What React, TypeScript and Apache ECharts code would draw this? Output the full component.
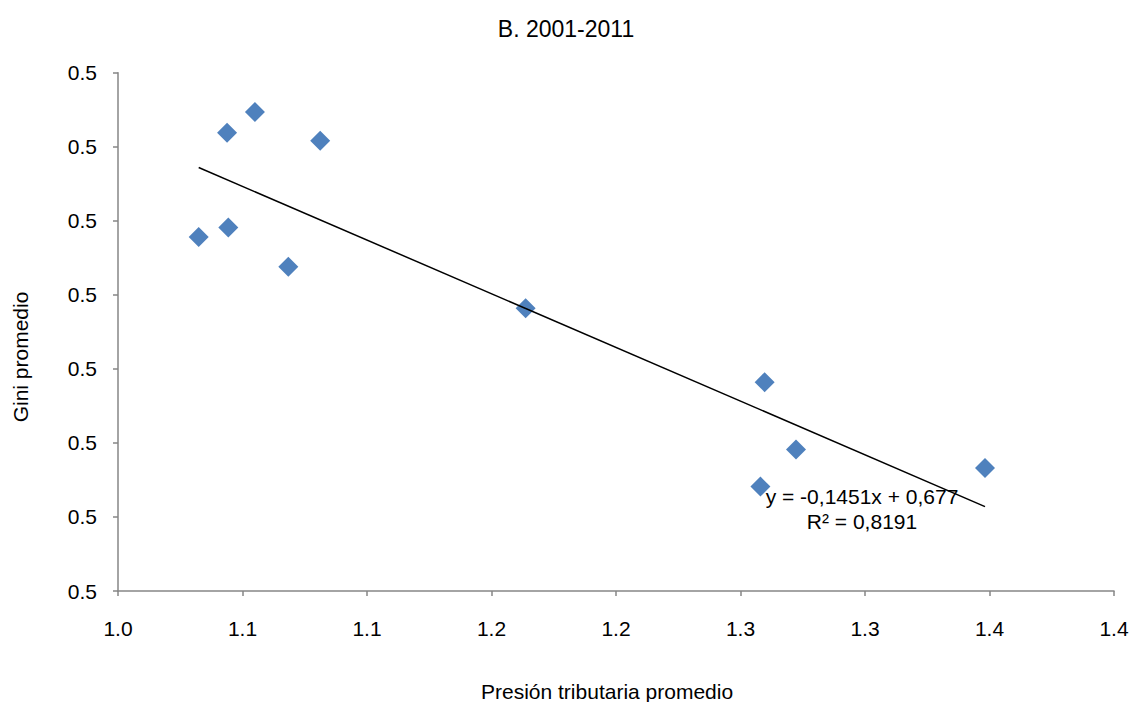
import React, { useEffect, useRef } from "react";
import * as echarts from "echarts";

const titleText = "B. 2001-2011";
const xAxisName = "Presión tributaria promedio";
const yAxisName = "Gini promedio";

const xValues = [1.0324, 1.0438, 1.055, 1.0812, 1.0443, 1.0684, 1.1637, 1.2597, 1.2723, 1.258, 1.3482];
const yValues = [0.5178, 0.5319, 0.5347, 0.5308, 0.5191, 0.5138, 0.5082, 0.4982, 0.4891, 0.4841, 0.4866];

const trendX = [1.0324, 1.3482];
const trendY = [0.5272, 0.4814];

const xTickLabels = ["1.0", "1.1", "1.1", "1.2", "1.2", "1.3", "1.3", "1.4", "1.4"];
const yTickLabels = ["0.5", "0.5", "0.5", "0.5", "0.5", "0.5", "0.5", "0.5"];

const equationText = "y = -0,1451x + 0,677";
const r2Text = "R² = 0,8191";

const X_MIN = 1.0;
const X_STEP = 0.05;
const Y_MIN = 0.47;
const Y_STEP = 0.01;

export default function App() {
  const ref = useRef<HTMLDivElement>(null);

  useEffect(() => {
    if (!ref.current) return;
    const chart = echarts.init(ref.current, null, { renderer: "svg" });
    const font = "Liberation Sans, Arial, sans-serif";
    const axisColor = "#868686";

    chart.setOption({
      animation: false,
      backgroundColor: "#ffffff",
      textStyle: { fontFamily: font },
      title: {
        text: titleText,
        left: "center",
        top: 12,
        textStyle: { fontFamily: font, fontSize: 23, fontWeight: "normal", color: "#000" },
      },
      grid: { left: 118, right: 18, top: 72.7, bottom: 111, containLabel: false },
      xAxis: {
        type: "value",
        min: X_MIN,
        max: X_MIN + X_STEP * (xTickLabels.length - 1),
        interval: X_STEP,
        axisLine: { show: true, lineStyle: { color: axisColor, width: 1.5 } },
        axisTick: { show: true, length: 5, lineStyle: { color: axisColor, width: 1.5 } },
        splitLine: { show: false },
        axisLabel: {
          margin: 27,
          fontSize: 21,
          color: "#000",
          fontFamily: font,
          formatter: (v: number) => {
            const i = Math.round((v - X_MIN) / X_STEP);
            return xTickLabels[i] ?? "";
          },
        },
      },
      yAxis: {
        type: "value",
        min: Y_MIN,
        max: Y_MIN + Y_STEP * (yTickLabels.length - 1),
        interval: Y_STEP,
        axisLine: { show: true, lineStyle: { color: axisColor, width: 1.5 } },
        axisTick: { show: true, length: 5, lineStyle: { color: axisColor, width: 1.5 } },
        splitLine: { show: false },
        axisLabel: {
          margin: 21,
          fontSize: 21,
          color: "#000",
          fontFamily: font,
          formatter: (v: number) => {
            const i = Math.round((v - Y_MIN) / Y_STEP);
            return yTickLabels[i] ?? "";
          },
        },
      },
      series: [
        {
          type: "line",
          data: trendX.map((x, i) => [x, trendY[i]]),
          showSymbol: false,
          symbol: "none",
          lineStyle: { color: "#000", width: 1.5 },
          z: 3,
          silent: true,
        },
        {
          type: "scatter",
          data: xValues.map((x, i) => [x, yValues[i]]),
          symbol: "diamond",
          symbolSize: 20,
          itemStyle: { color: "#4F81BD", opacity: 1 },
          z: 2,
        },
      ],
      graphic: [
        {
          type: "text",
          x: 481,
          y: 691,
          style: {
            text: xAxisName,
            font: `21px ${font}`,
            fill: "#000",
            align: "left",
            verticalAlign: "middle",
          },
        },
        {
          type: "text",
          x: 20,
          y: 357,
          rotation: Math.PI / 2,
          style: {
            text: yAxisName,
            font: `21px ${font}`,
            fill: "#000",
            align: "center",
            verticalAlign: "middle",
          },
        },
        {
          type: "text",
          x: 862,
          y: 496,
          z: 10,
          style: {
            text: equationText,
            font: `21px ${font}`,
            fill: "#000",
            align: "center",
            verticalAlign: "middle",
          },
        },
        {
          type: "text",
          x: 862,
          y: 521,
          z: 10,
          style: {
            text: r2Text,
            font: `21px ${font}`,
            fill: "#000",
            align: "center",
            verticalAlign: "middle",
          },
        },
      ],
    });

    return () => chart.dispose();
  }, []);

  return (
    <div
      ref={ref}
      style={{ position: "absolute", left: 0, top: 0, width: 1132, height: 702 }}
    />
  );
}
